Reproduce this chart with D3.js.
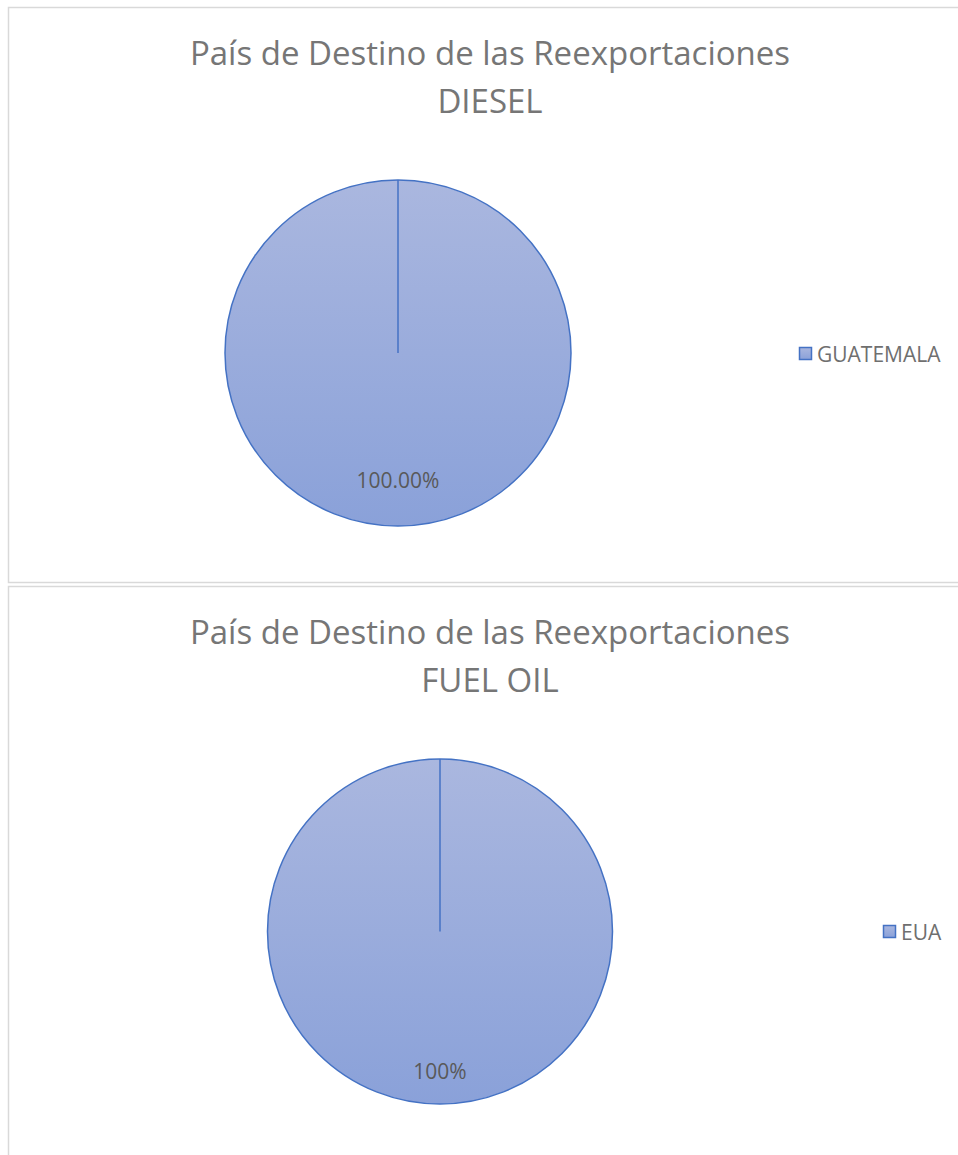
<!DOCTYPE html>
<html>
<head>
<meta charset="utf-8">
<script src="https://cdn.jsdelivr.net/npm/d3@7"></script>
<style>
  body { margin: 0; background: #fff; }
  text { font-family: "Open Sans", sans-serif; }
</style>
</head>
<body>
<div id="chart"></div>
<script>
// chart data
var titleText = "País de Destino de las Reexportaciones";
var products = ["DIESEL", "FUEL OIL"];
var dieselCountries = ["GUATEMALA"];
var dieselValues = [100];
var fuelCountries = ["EUA"];
var fuelValues = [100];
var labelFormats = [".2%", ".0%"];

var width = 958, height = 1155;

var svg = d3.select("#chart")
  .append("svg")
  .attr("width", width)
  .attr("height", height);

// gradient like the office fill
var defs = svg.append("defs");
var grad = defs.append("linearGradient")
  .attr("id", "blueFill")
  .attr("x1", 0).attr("y1", 0)
  .attr("x2", 0).attr("y2", 1);
grad.append("stop").attr("offset", "0%").attr("stop-color", "#aab7df");
grad.append("stop").attr("offset", "100%").attr("stop-color", "#8aa1d9");

var panels = [
  { top: 7.5, bottom: 582.5, cx: 398, cy: 353, r: 173, labelR: 0.74, legendX: 799, legendY: 354,
    product: products[0], names: dieselCountries, values: dieselValues, fmt: labelFormats[0] },
  { top: 586.5, bottom: 1160, cx: 440, cy: 931.5, r: 172.5, labelR: 0.81, legendX: 883, legendY: 932,
    product: products[1], names: fuelCountries, values: fuelValues, fmt: labelFormats[1] }
];

panels.forEach(function (p) {

  var g = svg.append("g");

  // chart area border
  g.append("rect")
    .attr("x", 8.5)
    .attr("y", p.top)
    .attr("width", width + 10)
    .attr("height", p.bottom - p.top)
    .attr("fill", "none")
    .attr("stroke", "#d9d9d9")
    .attr("stroke-width", 1.5);

  var title = g.append("text")
    .attr("x", 490)
    .attr("y", p.top + 57)
    .attr("text-anchor", "middle")
    .style("font-size", "33px")
    .style("fill", "#767676");
  title.append("tspan").attr("x", 490).text(titleText);
  title.append("tspan").attr("x", 490).attr("dy", 48).text(p.product);

  var data = p.names.map(function (n, i) { return { name: n, value: p.values[i] }; });
  var total = d3.sum(data, d => d.value);

  var pie = d3.pie().sort(null).value(d => d.value);
  var arcs = pie(data);

  var arc = d3.arc().innerRadius(0).outerRadius(p.r);
  var labelArc = d3.arc().innerRadius(p.r * p.labelR).outerRadius(p.r * p.labelR);

  var pieG = g.append("g").attr("transform", `translate(${p.cx},${p.cy})`);

  pieG.selectAll("path.slice")
    .data(arcs)
    .enter()
    .append("path")
    .attr("class", "slice")
    .attr("d", arc)
    .attr("fill", "url(#blueFill)")
    .attr("stroke", "#4472c4")
    .attr("stroke-width", 1.5);

  // slice edge (full circle still shows its start radius)
  pieG.selectAll("line.edge")
    .data(arcs)
    .enter()
    .append("line")
    .attr("class", "edge")
    .attr("x1", 0).attr("y1", 0)
    .attr("x2", d => p.r * Math.sin(d.startAngle))
    .attr("y2", d => -p.r * Math.cos(d.startAngle))
    .attr("stroke", "#4472c4")
    .attr("stroke-width", 1.5);

  pieG.selectAll("text.valueLabel")
    .data(arcs)
    .enter()
    .append("text")
    .attr("class", "valueLabel")
    .attr("transform", d => `translate(${labelArc.centroid(d)})`)
    .attr("text-anchor", "middle")
    .attr("dy", "0.35em")
    .style("font-size", "21px")
    .style("fill", "#595959")
    .text(d => d3.format(p.fmt)(d.value / total));

  // legend
  var legend = g.selectAll("g.legend")
    .data(data)
    .enter()
    .append("g")
    .attr("class", "legend")
    .attr("transform", (d, i) => `translate(${p.legendX},${p.legendY + i * 26})`);

  legend.append("rect")
    .attr("x", 0.5)
    .attr("y", -6.5)
    .attr("width", 12)
    .attr("height", 12)
    .attr("fill", "url(#blueFill)")
    .attr("stroke", "#4472c4")
    .attr("stroke-width", 1.5);

  legend.append("text")
    .attr("x", 18)
    .attr("y", 0)
    .attr("dy", "0.36em")
    .style("font-size", "21px")
    .style("fill", "#6f6f6f")
    .text(d => d.name);
});
</script>
</body>
</html>
